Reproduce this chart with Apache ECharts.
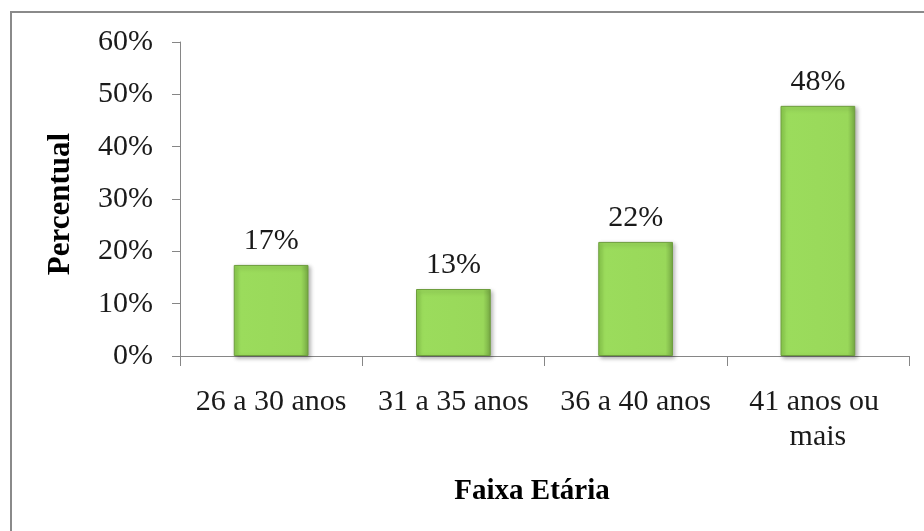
<!DOCTYPE html>
<html>
<head>
<meta charset="utf-8">
<script src="https://cdn.jsdelivr.net/npm/echarts@6/dist/echarts.min.js"></script>
<style>
html,body{margin:0;padding:0;background:#fff;}
#chart{width:924px;height:531px;}
</style>
</head>
<body>
<div id="chart"></div>
<script>
const categories = ['26 a 30 anos', '31 a 35 anos', '36 a 40 anos', '41 anos ou mais'];
const values = [17.4, 12.8, 21.8, 47.8];
const yTicks = [0, 10, 20, 30, 40, 50, 60];
const xTitle = 'Faixa Etária';
const yTitle = 'Percentual';

const FONT = '"Liberation Serif", "Times New Roman", serif';
const chart = echarts.init(document.getElementById('chart'));
chart.setOption({
  animation: false,
  backgroundColor: '#ffffff',
  grid: { left: 180, right: 15, top: 42, bottom: 175, containLabel: false },
  xAxis: {
    type: 'category',
    data: categories,
    axisLine: { lineStyle: { color: '#868686', width: 1 } },
    axisTick: { show: true, length: 10, lineStyle: { color: '#868686' } },
    axisLabel: {
      color: '#1a1a1a', fontFamily: FONT, fontSize: 30, margin: 29,
      lineHeight: 35, width: 168, overflow: 'break', interval: 0
    }
  },
  yAxis: {
    type: 'value',
    min: yTicks[0], max: yTicks[yTicks.length - 1], interval: 10,
    splitLine: { show: false },
    axisLine: { show: true, lineStyle: { color: '#868686', width: 1 } },
    axisTick: { show: true, length: 8, lineStyle: { color: '#868686' } },
    axisLabel: {
      color: '#1a1a1a', fontFamily: FONT, fontSize: 30, margin: 27,
      formatter: v => v + '%'
    }
  },
  series: [{
    type: 'bar',
    data: values,
    barWidth: '41%',
    itemStyle: {
      color: {
        type: 'linear', x: 0, y: 0, x2: 1, y2: 0,
        colorStops: [
          { offset: 0, color: '#8acb4c' },
          { offset: 0.08, color: '#9bdc5c' },
          { offset: 0.9, color: '#99d85a' },
          { offset: 1, color: '#76a944' }
        ]
      },
      borderColor: '#6e9e3e',
      borderWidth: 1,
      shadowBlur: 4,
      shadowOffsetX: 2,
      shadowOffsetY: 2,
      shadowColor: 'rgba(0,0,0,0.3)'
    },
    label: {
      show: true, position: 'top', distance: 9,
      color: '#1a1a1a', fontFamily: FONT, fontSize: 30,
      formatter: p => Math.round(p.value) + '%'
    }
  }],
  graphic: [
    {
      type: 'rect', silent: true,
      shape: { x: 11, y: 12, width: 940, height: 560 },
      style: { fill: 'none', stroke: '#8a8a8a', lineWidth: 2 }
    },
    {
      type: 'text', x: 532, y: 492,
      style: { text: xTitle, font: 'bold 29px ' + FONT, fill: '#000', textAlign: 'center', textVerticalAlign: 'middle' }
    },
    {
      type: 'text', x: 61, y: 204, rotation: Math.PI / 2,
      style: { text: yTitle, font: 'bold 31px ' + FONT, fill: '#000', textAlign: 'center', textVerticalAlign: 'middle' }
    }
  ]
});
</script>
</body>
</html>
